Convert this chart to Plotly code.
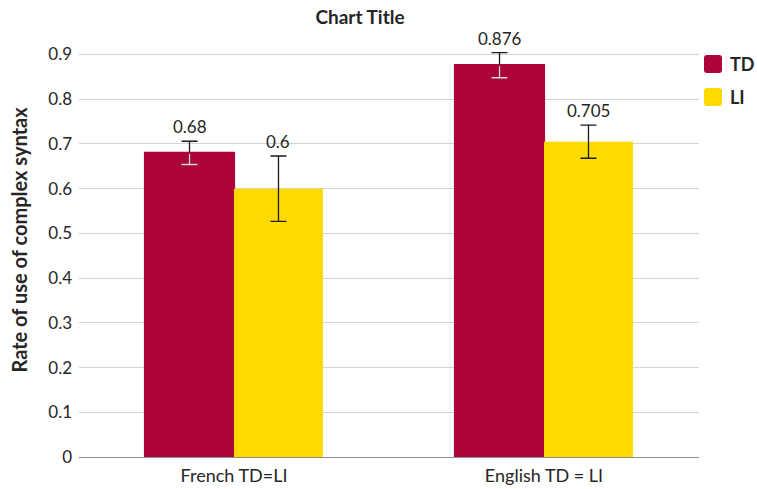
import plotly.graph_objects as go

categories = ["French TD=LI", "English TD = LI"]
series_names = ["TD", "LI"]
td_values = [0.68, 0.876]
li_values = [0.6, 0.705]
td_errors = [0.026, 0.028]
li_errors = [0.073, 0.037]
y_title = "Rate of use of complex syntax"

colors = {"TD": "#AE0539", "LI": "#FDDB00"}
# error bar ink: the part inside a dark bar is drawn light
err_inner = {"TD": "#f3d3dc", "LI": "#1a1a1a"}
err_outer = "#1a1a1a"
font_family = "Lato, 'Open Sans', sans-serif"
text_color = "#262626"

W, H = 757, 489
ML, MR, MT, MB = 79, 58, 50, 32
plot_w = W - ML - MR
plot_h = H - MT - MB


def px_x(px):
    return (px - ML) / plot_w


def px_y(py):
    return (H - MB - py) / plot_h


fig = go.Figure()

series = [("TD", td_values, td_errors), ("LI", li_values, li_errors)]
zeros = [0, 0]
for name, vals, errs in series:
    # bar with full error bar in dark ink
    fig.add_trace(go.Bar(
        x=categories, y=vals, name=name, offsetgroup=name,
        marker=dict(color=colors[name], line=dict(width=0)),
        error_y=dict(type="data", array=errs, color=err_outer,
                     thickness=1.3, width=8),
        showlegend=False, hoverinfo="skip",
    ))
    if err_inner[name] != err_outer:
        # repaint the lower half of the error bar in the light ink
        fig.add_trace(go.Bar(
            x=categories, y=vals, offsetgroup=name,
            marker=dict(color="rgba(0,0,0,0)", line=dict(width=0)),
            error_y=dict(type="data", symmetric=False, array=zeros,
                         arrayminus=errs, color=err_inner[name],
                         thickness=1.3, width=8),
            showlegend=False, hoverinfo="skip",
        ))
        # re-edge the bar so the zero-length cap at its top disappears
        fig.add_trace(go.Bar(
            x=categories, y=vals, offsetgroup=name,
            marker=dict(color="rgba(0,0,0,0)",
                        line=dict(width=2.2, color=colors[name])),
            showlegend=False, hoverinfo="skip",
        ))

# value labels sit just above each error bar
offsets = {"TD": -0.1435, "LI": 0.1435}
for name, vals, errs in series:
    for i, (v, e) in enumerate(zip(vals, errs)):
        fig.add_annotation(
            x=i + offsets[name], y=v + e, xref="x", yref="y",
            text=f"{v:g}", showarrow=False, yanchor="bottom", yshift=2,
            font=dict(family=font_family, size=17, color=text_color),
        )

# legend: rounded swatches with bold labels
r = 3
sq = 18
rounded = (f"M{r},0 L{sq - r},0 Q{sq},0 {sq},{r} L{sq},{sq - r} "
           f"Q{sq},{sq} {sq - r},{sq} L{r},{sq} Q0,{sq} 0,{sq - r} "
           f"L0,{r} Q0,0 {r},0 Z")
for k, name in enumerate(series_names):
    top = 55 + k * 33
    fig.add_shape(
        type="path", xref="paper", yref="paper",
        xsizemode="pixel", ysizemode="pixel",
        xanchor=px_x(704), yanchor=px_y(top + sq),
        path=rounded, fillcolor=colors[name], line=dict(width=0),
        layer="above",
    )
    fig.add_annotation(
        x=px_x(728), y=px_y(top + sq / 2), xref="paper", yref="paper",
        text=f"<b>{name}</b>", showarrow=False, xanchor="left",
        yanchor="middle",
        font=dict(family=font_family, size=18, color=text_color),
    )

# vertical axis title, centred on the chart height
fig.add_annotation(
    x=px_x(18), y=px_y(239.5), xref="paper", yref="paper",
    text=f"<b>{y_title}</b>", textangle=-90, showarrow=False,
    xanchor="center", yanchor="middle",
    font=dict(family=font_family, size=20, color=text_color),
)

fig.update_layout(
    width=W, height=H,
    margin=dict(l=ML, r=MR, t=MT, b=MB),
    paper_bgcolor="white", plot_bgcolor="white",
    barmode="group", bargap=0.426, bargroupgap=0,
    showlegend=False,
    title=dict(text="<b>Chart Title</b>", x=360 / W, xref="container",
               xanchor="center", y=1 - 17 / H, yanchor="middle",
               font=dict(family=font_family, size=19, color=text_color)),
    font=dict(family=font_family, color=text_color),
)

fig.update_xaxes(
    automargin=False,
    showline=True, linecolor="#8c8c8c", linewidth=1.3,
    ticks="", tickfont=dict(family=font_family, size=18, color=text_color),
    ticklabelstandoff=2,
    showgrid=False,
)
fig.update_yaxes(
    automargin=False,
    range=[0, 0.91], tickvals=[i / 10 for i in range(10)], tickformat="~g",
    showgrid=True, gridcolor="#d4d4d4", gridwidth=1,
    zeroline=False, showline=False, ticks="",
    tickfont=dict(family=font_family, size=17, color=text_color),
    ticklabelstandoff=6,
)

fig.write_html("out.html")
